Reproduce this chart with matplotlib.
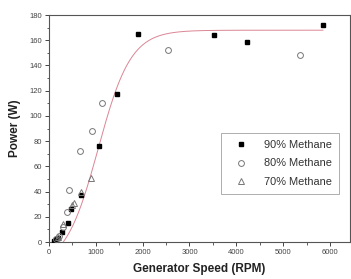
import matplotlib
matplotlib.use("Agg")
from matplotlib import pyplot as plt
from matplotlib.ticker import MultipleLocator
import numpy as np

plt.rcParams['font.family'] = ['Liberation Sans', 'DejaVu Sans']

# generator speed (RPM) and power (W) for each gas mix
speed_90 = [113, 150, 185, 275, 400, 465, 690, 1065, 1450, 1900, 3530, 4220, 5850]
power_90 = [1, 2, 3, 8, 15, 26, 37, 76, 117, 165, 164, 159, 172]
speed_80 = [150, 220, 300, 380, 430, 660, 910, 1130, 2540, 5350]
power_80 = [2, 5, 12, 24, 41, 72, 88, 110, 152, 148]
speed_70 = [200, 290, 500, 540, 680, 890]
power_70 = [4, 14, 29, 31, 40, 51]

# Boltzmann fit parameters (A1, A2, x0, dx)
fit_A1, fit_A2, fit_x0, fit_dx = -20, 168, 1050, 350

fig = plt.figure(figsize=(3.51, 2.79), dpi=100)
ax = fig.add_axes([0.1396, 0.1326, 0.9974 - 0.1396, 0.946 - 0.1326])

xs = np.linspace(min(speed_90), max(speed_90), 400)
ys = fit_A2 + (fit_A1 - fit_A2) / (1 + np.exp((xs - fit_x0) / fit_dx))
ax.plot(xs, ys, color='#db8594', lw=0.7, zorder=2)

ax.plot(speed_90, power_90, ls='none', marker='s', ms=3.3, mfc='black', mec='black',
        label='90% Methane', zorder=3)
ax.plot(speed_80, power_80, ls='none', marker='o', ms=4.2, mfc='none', mec='#777777',
        mew=0.7, label='80% Methane', zorder=3)
ax.plot(speed_70, power_70, ls='none', marker='^', ms=4.4, mfc='none', mec='#777777',
        mew=0.7, label='70% Methane', zorder=3)

ax.set_xlim(0, 6430)
ax.set_ylim(0, 180)
ax.xaxis.set_major_locator(MultipleLocator(1000))
ax.xaxis.set_minor_locator(MultipleLocator(500))
ax.yaxis.set_major_locator(MultipleLocator(20))
ax.yaxis.set_minor_locator(MultipleLocator(10))
ax.tick_params(which='major', direction='out', length=3, width=0.7, labelsize=5.5,
               labelcolor='#444444', color='#444444', pad=2)
ax.tick_params(which='minor', direction='out', length=1.8, width=0.6, color='#444444')
for s in ax.spines.values():
    s.set_color('#555555')
    s.set_linewidth(0.8)

ax.set_xlabel('Generator Speed (RPM)', fontsize=8.5, fontweight='bold', color='#222222', labelpad=5)
ax.set_ylabel('Power (W)', fontsize=8.5, fontweight='bold', color='#222222', labelpad=6)

leg = ax.legend(loc='upper right', bbox_to_anchor=(0.963, 0.48), fontsize=7.9,
                frameon=True, fancybox=False, edgecolor='#999999', handletextpad=0.9,
                labelspacing=0.75, borderpad=0.65, handlelength=2.4, labelcolor='#333333',
                borderaxespad=0)
leg.get_frame().set_linewidth(0.7)

fig.savefig('out.png', dpi=100)
